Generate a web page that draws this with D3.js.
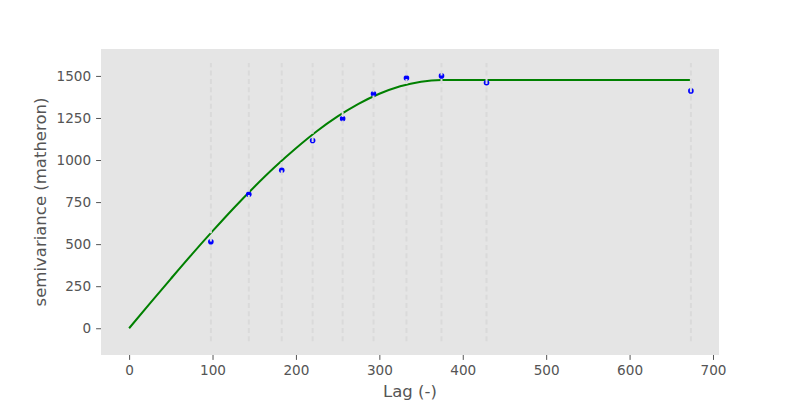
<!DOCTYPE html>
<html>
<head>
<meta charset="utf-8">
<script src="https://cdn.jsdelivr.net/npm/d3@7"></script>
<style>
  html, body { margin: 0; padding: 0; background: #ffffff; }
  svg { display: block; font-family: "DejaVu Sans", sans-serif; }
</style>
</head>
<body>
<svg id="chart" width="800" height="400"></svg>
<script>
// Experimental semivariogram (bin centres and values)
const lagBins = [98, 143.5, 183, 220, 256, 293, 332.5, 374.5, 428.5, 673.5];
const semivariance = [514, 797, 939, 1116, 1246, 1394, 1488, 1500, 1459, 1411];

// Fitted model curve
const modelLag = [0, 25, 50, 75, 100, 125, 150, 175, 200, 225, 250, 275, 300, 325, 350, 374.5, 673.5];
const modelValue = [0, 148, 294, 438, 577, 712, 840, 960, 1070, 1171, 1259, 1334, 1394, 1439, 1466, 1475, 1475];

const xTicks = [0, 100, 200, 300, 400, 500, 600, 700];
const yTicks = [0, 250, 500, 750, 1000, 1250, 1500];
const binLineRange = [-77, 1577];

const svg = d3.select("#chart");
const pLeft = 101, pRight = 719, pTop = 49, pBottom = 355;

const xs = d3.scaleLinear().domain([-33.7, 707.2]).range([pLeft, pRight]);
const ys = d3.scaleLinear().domain([-159, 1660]).range([pBottom, pTop]);

// axes background
svg.append("rect")
  .attr("x", pLeft).attr("y", pTop)
  .attr("width", pRight - pLeft).attr("height", pBottom - pTop)
  .attr("fill", "#e5e5e5");

// model line
const model = modelLag.map((d, i) => [d, modelValue[i]]);
svg.append("path")
  .datum(model)
  .attr("fill", "none")
  .attr("stroke", "#008000")
  .attr("stroke-width", 2)
  .attr("d", d3.line().x(d => xs(d[0])).y(d => ys(d[1])).curve(d3.curveMonotoneX));

// points
svg.append("g").selectAll("circle")
  .data(lagBins.map((d, i) => [d, semivariance[i]]))
  .join("circle")
  .attr("cx", d => xs(d[0]))
  .attr("cy", d => ys(d[1]))
  .attr("r", 2.8)
  .attr("fill", "#0000ff");

// bin lines (dashed)
svg.append("g").selectAll("line")
  .data(lagBins)
  .join("line")
  .attr("x1", d => xs(d)).attr("x2", d => xs(d))
  .attr("y1", ys(binLineRange[0])).attr("y2", ys(binLineRange[1]))
  .attr("stroke", "#dadada")
  .attr("stroke-width", 2)
  .attr("stroke-dasharray", "5,3.3");

// x axis
const xAxis = d3.axisBottom(xs).tickValues(xTicks).tickSize(4.9).tickPadding(5.5).tickFormat(d3.format("d"));
const gx = svg.append("g").attr("transform", `translate(0,${pBottom})`).call(xAxis);
gx.select(".domain").remove();
gx.selectAll(".tick line").attr("stroke", "#555555").attr("stroke-width", 1);
gx.selectAll(".tick text").attr("fill", "#555555").attr("font-size", "13.6px").attr("font-family", "DejaVu Sans");

// y axis
const yAxis = d3.axisLeft(ys).tickValues(yTicks).tickSize(4.9).tickPadding(5).tickFormat(d3.format("d"));
const gy = svg.append("g").attr("transform", `translate(${pLeft},0)`).call(yAxis);
gy.select(".domain").remove();
gy.selectAll(".tick line").attr("stroke", "#555555").attr("stroke-width", 1);
gy.selectAll(".tick text").attr("fill", "#555555").attr("font-size", "13.6px").attr("font-family", "DejaVu Sans");

// axis labels
svg.append("text")
  .attr("x", (pLeft + pRight) / 2).attr("y", 397)
  .attr("text-anchor", "middle")
  .attr("fill", "#555555")
  .attr("font-size", "16.5px")
  .text("Lag (-)");

svg.append("text")
  .attr("transform", `translate(46,${(pTop + pBottom) / 2}) rotate(-90)`)
  .attr("text-anchor", "middle")
  .attr("fill", "#555555")
  .attr("font-size", "16.5px")
  .text("semivariance (matheron)");
</script>
</body>
</html>
